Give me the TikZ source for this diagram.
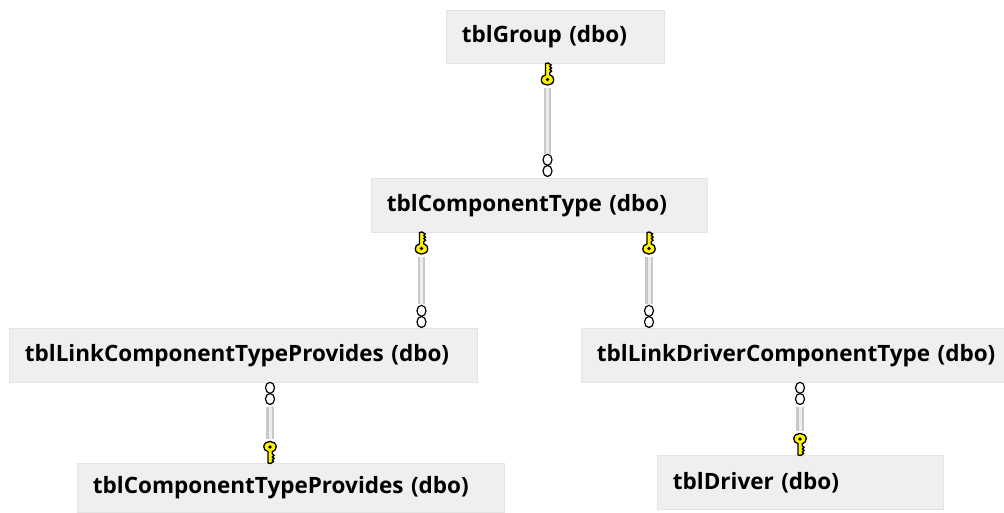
\documentclass[tikz,border=0pt]{standalone}
\usepackage{fontspec}
\setmainfont{Open Sans}
\definecolor{boxfill}{HTML}{EFEFEF}
\definecolor{boxline}{HTML}{E4E4E4}
\definecolor{barside}{HTML}{C8C8C8}
\definecolor{barmid}{HTML}{EDEDED}
\definecolor{keyfill}{HTML}{FFF200}
\tikzset{
  x=1pt,y=-1pt,
  tbl/.style={draw=boxline,fill=boxfill,line width=0.8pt,anchor=north west,align=left,inner xsep=15.5pt,inner ysep=0pt,
    font=\fontsize{22.5}{26}\selectfont\bfseries,text=black},
  rel/.style={draw=barside,line width=2.2pt,double=barmid,double distance=3pt,shorten <=24pt,shorten >=24pt},
  keypic/.pic={
    \draw[black,line width=1.3pt,fill=keyfill,line join=round]
      (-2,-4.5) -- (-2,-16) -- (0.5,-16.5) -- (3.8,-14.5) -- (2.2,-13) -- (4.2,-11.3) -- (2.2,-10) -- (4.2,-8.3) -- (2.2,-6.8)
      -- (2.2,-4.8)
      .. controls (5,-4.2) and (6.2,-2) .. (6.2,0.4) .. controls (6.2,3.6) and (3,5.6) .. (0,5.6)
      .. controls (-3,5.6) and (-6.2,3.6) .. (-6.2,0.4) .. controls (-6.2,-2) and (-5,-4.2) .. (-2,-4.5) -- cycle;
    \fill[black] (0,0) circle[radius=1.9];
  },
  loops/.pic={
    \draw[black,line width=1.2pt,fill=white] (0,5.8) ellipse[x radius=4.5,y radius=5.5];
    \draw[black,line width=1.2pt,fill=white] (0,17) ellipse[x radius=4.5,y radius=5.5];
  },
}
\begin{document}
\begin{tikzpicture}
\useasboundingbox (0,0) rectangle (1004,512);
\node[tbl,text width=187pt,minimum height=53pt] (g) at (446,10) {\raisebox{-1pt}{tblGroup (dbo)}};
\node[tbl,text width=305pt,minimum height=54pt] (c) at (371,178) {\raisebox{-1pt}{tblComponentType (dbo)}};
\node[tbl,text width=437pt,minimum height=54pt] (l) at (9,328) {\raisebox{-1pt}{tblLinkComponentTypeProvides (dbo)}};
\node[tbl,text width=392pt,minimum height=54pt] (d) at (581,328) {\raisebox{-1pt}{tblLinkDriverComponentType (dbo)}};
\node[tbl,text width=396pt,minimum height=49pt] (p) at (77,462.6) {\raisebox{-3pt}{tblComponentTypeProvides (dbo)}};
\node[tbl,text width=255pt,minimum height=54pt] (r) at (657,455) {\raisebox{-1pt}{tblDriver (dbo)}};
\coordinate (x1) at (547.5,0);
\coordinate (x2) at (421.5,0);
\coordinate (x3) at (649,0);
\coordinate (x4) at (270,0);
\coordinate (x5) at (800,0);
\draw[rel] (g.south -| x1) -- (c.north -| x1);
\draw[rel] (c.south -| x2) -- (l.north -| x2);
\draw[rel] (c.south -| x3) -- (d.north -| x3);
\draw[rel] (l.south -| x4) -- (p.north -| x4);
\draw[rel] (d.south -| x5) -- (r.north -| x5);
\pic at (547.5,79.5) {keypic};
\pic at (421.5,248.5) {keypic};
\pic at (649,248.5) {keypic};
\pic at (547.5,154) {loops};
\pic at (421.5,305) {loops};
\pic at (649,305) {loops};
\pic at (270,382) {loops};
\pic at (800,382) {loops};
\pic[yscale=-1] at (270,447) {keypic};
\pic[yscale=-1] at (800,439) {keypic};
\end{tikzpicture}
\end{document}
